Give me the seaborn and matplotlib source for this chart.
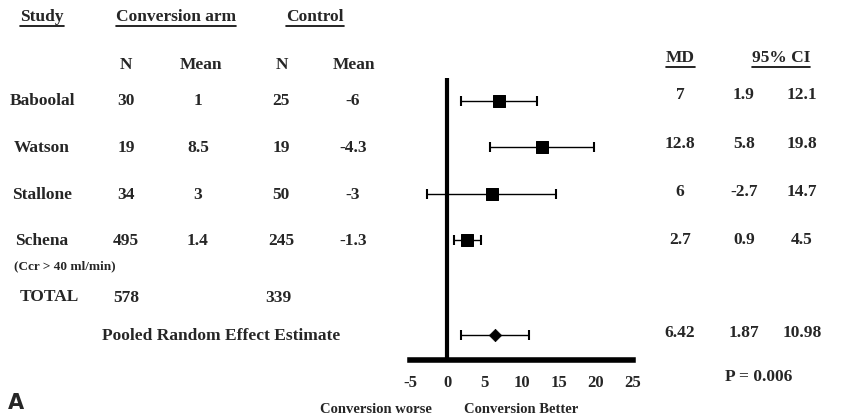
import matplotlib
matplotlib.use("Agg")
import matplotlib.pyplot as plt
import seaborn as sns
import pandas as pd
from matplotlib.lines import Line2D

# data
studies = ["Baboolal", "Watson", "Stallone", "Schena"]
conv_n = [30, 19, 34, 495]
conv_mean = ["1", "8.5", "3", "1.4"]
ctrl_n = [25, 19, 50, 245]
ctrl_mean = ["-6", "-4.3", "-3", "-1.3"]
md = [7, 12.8, 6, 2.7]
ci_low = [1.9, 5.8, -2.7, 0.9]
ci_high = [12.1, 19.8, 14.7, 4.5]
total_conv = 578
total_ctrl = 339
pooled_md = 6.42
pooled_low = 1.87
pooled_high = 10.98
p_value = "P = 0.006"
row_pos = [0, 1, 2, 3]
pooled_pos = 5.05
x_ticks = [-5, 0, 5, 10, 15, 20, 25]

sns.set_theme(style="white")
plt.rcParams['font.family'] = ['Liberation Serif', 'DejaVu Serif']
plt.rcParams['font.weight'] = 'bold'

W, H = 859, 419
fig = plt.figure(figsize=(W / 100, H / 100), dpi=100)


def px(x, y):
    return x / W, 1 - y / H


def T(x, y, s, ha='center', size=12.5, **kw):
    return fig.text(*px(x, y), s, ha=ha, va='center', fontsize=size,
                    fontweight='bold', **kw)


# forest axes
ax = fig.add_axes([410 / W, 1 - 360 / H, 223 / W, 282 / H])
df = pd.DataFrame({"md": md, "pos": row_pos})
for m, lo, hi, p in zip(md, ci_low, ci_high, row_pos):
    ax.errorbar(m, p, xerr=[[m - lo], [hi - m]], fmt='none', ecolor='black',
                elinewidth=1, capsize=3.5, capthick=1.5)
ax.errorbar(pooled_md, pooled_pos, xerr=[[pooled_md - pooled_low], [pooled_high - pooled_md]],
            fmt='none', ecolor='black', elinewidth=1, capsize=3.5, capthick=1.5)
sns.scatterplot(data=df, x="md", y="pos", marker='s', s=80, color='black',
                edgecolor='black', ax=ax, zorder=3)
sns.scatterplot(x=[pooled_md], y=[pooled_pos], marker='D', s=40, color='black',
                edgecolor='black', ax=ax, zorder=3)
ax.axvline(0, color='black', lw=3)
ax.set_xlim(-5, 25)
ax.set_ylim(5.59, -0.5)
ax.set_xticks(x_ticks)
ax.set_xticklabels([str(t) for t in x_ticks], fontsize=12, fontweight='bold')
ax.set_yticks([])
ax.set_xlabel("")
ax.set_ylabel("")
ax.tick_params(axis='x', length=0, pad=11)
for s in ["top", "right", "left"]:
    ax.spines[s].set_visible(False)
ax.spines["bottom"].set_linewidth(4)
ax.spines["bottom"].set_color('black')
ax.patch.set_alpha(0)

# headers
underlined = []
underlined.append(T(42, 17, "Study"))
underlined.append(T(176, 17, "Conversion arm"))
underlined.append(T(315, 17, "Control"))
underlined.append(T(680, 58, "MD"))
underlined.append(T(781, 58, "95% CI"))
T(126, 65, "N")
T(201, 65, "Mean")
T(282, 65, "N")
T(354, 65, "Mean")

# left table
row_y = [101, 148, 195, 241]
for i, y in enumerate(row_y):
    T(42, y, studies[i])
    T(126, y, str(conv_n[i]))
    T(198, y, conv_mean[i])
    T(281, y, str(ctrl_n[i]))
    T(353, y, ctrl_mean[i])
T(65, 266, "(Ccr > 40 ml/min)", size=9.5)
T(49, 297, "TOTAL")
T(126, 298, str(total_conv))
T(278, 298, str(total_ctrl))
T(221, 336, "Pooled Random Effect Estimate")

# right table
right_y = [95, 144, 192, 240]
for i, y in enumerate(right_y):
    T(680, y, f"{md[i]:g}")
    T(744, y, f"{ci_low[i]:g}")
    T(802, y, f"{ci_high[i]:g}")
T(680, 333, f"{pooled_md:g}")
T(744, 333, f"{pooled_low:g}")
T(802, 333, f"{pooled_high:g}")
T(759, 377, p_value)

T(376, 409, "Conversion worse", size=10.5)
T(521, 409, "Conversion Better", size=10.5)
fig.text(*px(8, 403), "A", ha='left', va='center', fontsize=15, fontweight='bold',
         family='DejaVu Sans')

# underline headers
fig.canvas.draw()
r = fig.canvas.get_renderer()
for t in underlined:
    bb = t.get_window_extent(r).transformed(fig.transFigure.inverted())
    yl = bb.y0 - 1.0 / H
    fig.add_artist(Line2D([bb.x0, bb.x1], [yl, yl], color='black', lw=1.2,
                          transform=fig.transFigure))

fig.savefig("out.png", dpi=100, facecolor='white')
